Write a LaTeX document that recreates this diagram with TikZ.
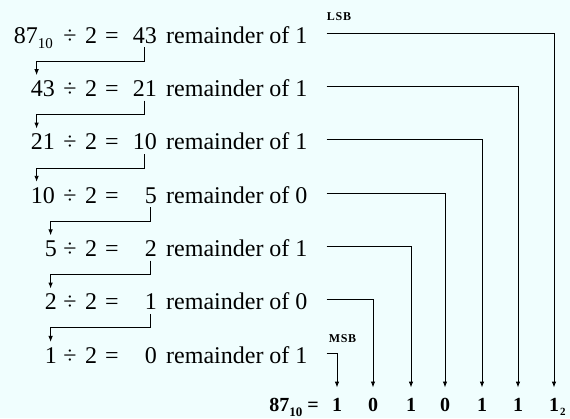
\documentclass[tikz,border=0pt]{standalone}
\usepackage{fontspec}
\setmainfont{Liberation Serif}
\usetikzlibrary{arrows.meta}
\definecolor{bg}{RGB}{240,254,254}
\newcommand\subten{\raisebox{-5pt}{\fontsize{15}{15}\selectfont 10}}
\newcommand\bsubten{\raisebox{-5pt}{\fontsize{13}{13}\selectfont\bfseries 10}}
\begin{document}
\begin{tikzpicture}[x=1pt,y=-1pt,
  txt/.style={inner sep=0pt, font=\fontsize{24}{28}\selectfont},
  bot/.style={inner sep=0pt, font=\fontsize{20}{22}\selectfont\bfseries},
  lab/.style={inner sep=0pt, font=\fontsize{12}{12}\selectfont\bfseries\addfontfeatures{LetterSpace=6}},
  conn/.style={line width=0.9pt, -{Latex[length=6pt,width=4.5pt]}},
]
\fill[bg] (0,0) rectangle (570,418);
\useasboundingbox (0,0) rectangle (570,418);
% rows
\foreach \i/\y/\dx/\dv/\qv/\rv in {
  1/43/53/{87\subten}/43/1,
  2/96.3/55/43/21/1,
  3/149.7/55/21/10/1,
  4/203/55/10/5/0,
  5/256.3/57/5/2/1,
  6/309.7/57/2/1/0,
  7/363/57/1/0/1}{
  \node[txt, anchor=base east] (d\i) at (\dx,\y) {\dv};
  \node[txt, anchor=base] (dv\i) at (70,\y) {÷};
  \node[txt, anchor=base] (two\i) at (91,\y) {2};
  \node[txt, anchor=base] (eq\i) at (112,\y) {=};
  \node[txt, anchor=base east] (q\i) at (157,\y) {\qv};
  \node[txt, anchor=base west] (r\i) at (166,\y) {remainder of \rv};
}
% bottom result
\node[bot, anchor=base east] (res) at (319,411) {87\bsubten\ =};
\foreach \j/\x/\v in {1/337/1,2/373/0,3/411/1,4/445/0,5/482/1,6/518/1,7/554/1}{
  \node[bot, anchor=base] (b\j) at (\x,411) {\v};
}
\node[inner sep=0pt, anchor=base west, font=\fontsize{11}{11}\selectfont\bfseries] (two) at (560,415) {2};
% labels
\node[lab] (lsb) at (339,16.5) {LSB};
\node[lab] (msb) at (342.5,338.5) {MSB};
% quotient to next dividend
\foreach \i/\n in {1/2,2/3,3/4,4/5,5/6,6/7}{
  \draw[conn, shorten <=4pt, shorten >=5pt] (q\i.south) -- ++(0,18) -| ([xshift=6pt]d\n.north west);
}
% remainders to bits
\foreach \i/\j in {1/7,2/6,3/5,4/4,5/3,6/2,7/1}{
  \draw[conn, shorten <=19pt, shorten >=10pt] ([yshift=1.5pt]r\i.east) -| (b\j.north);
}
\end{tikzpicture}
\end{document}
